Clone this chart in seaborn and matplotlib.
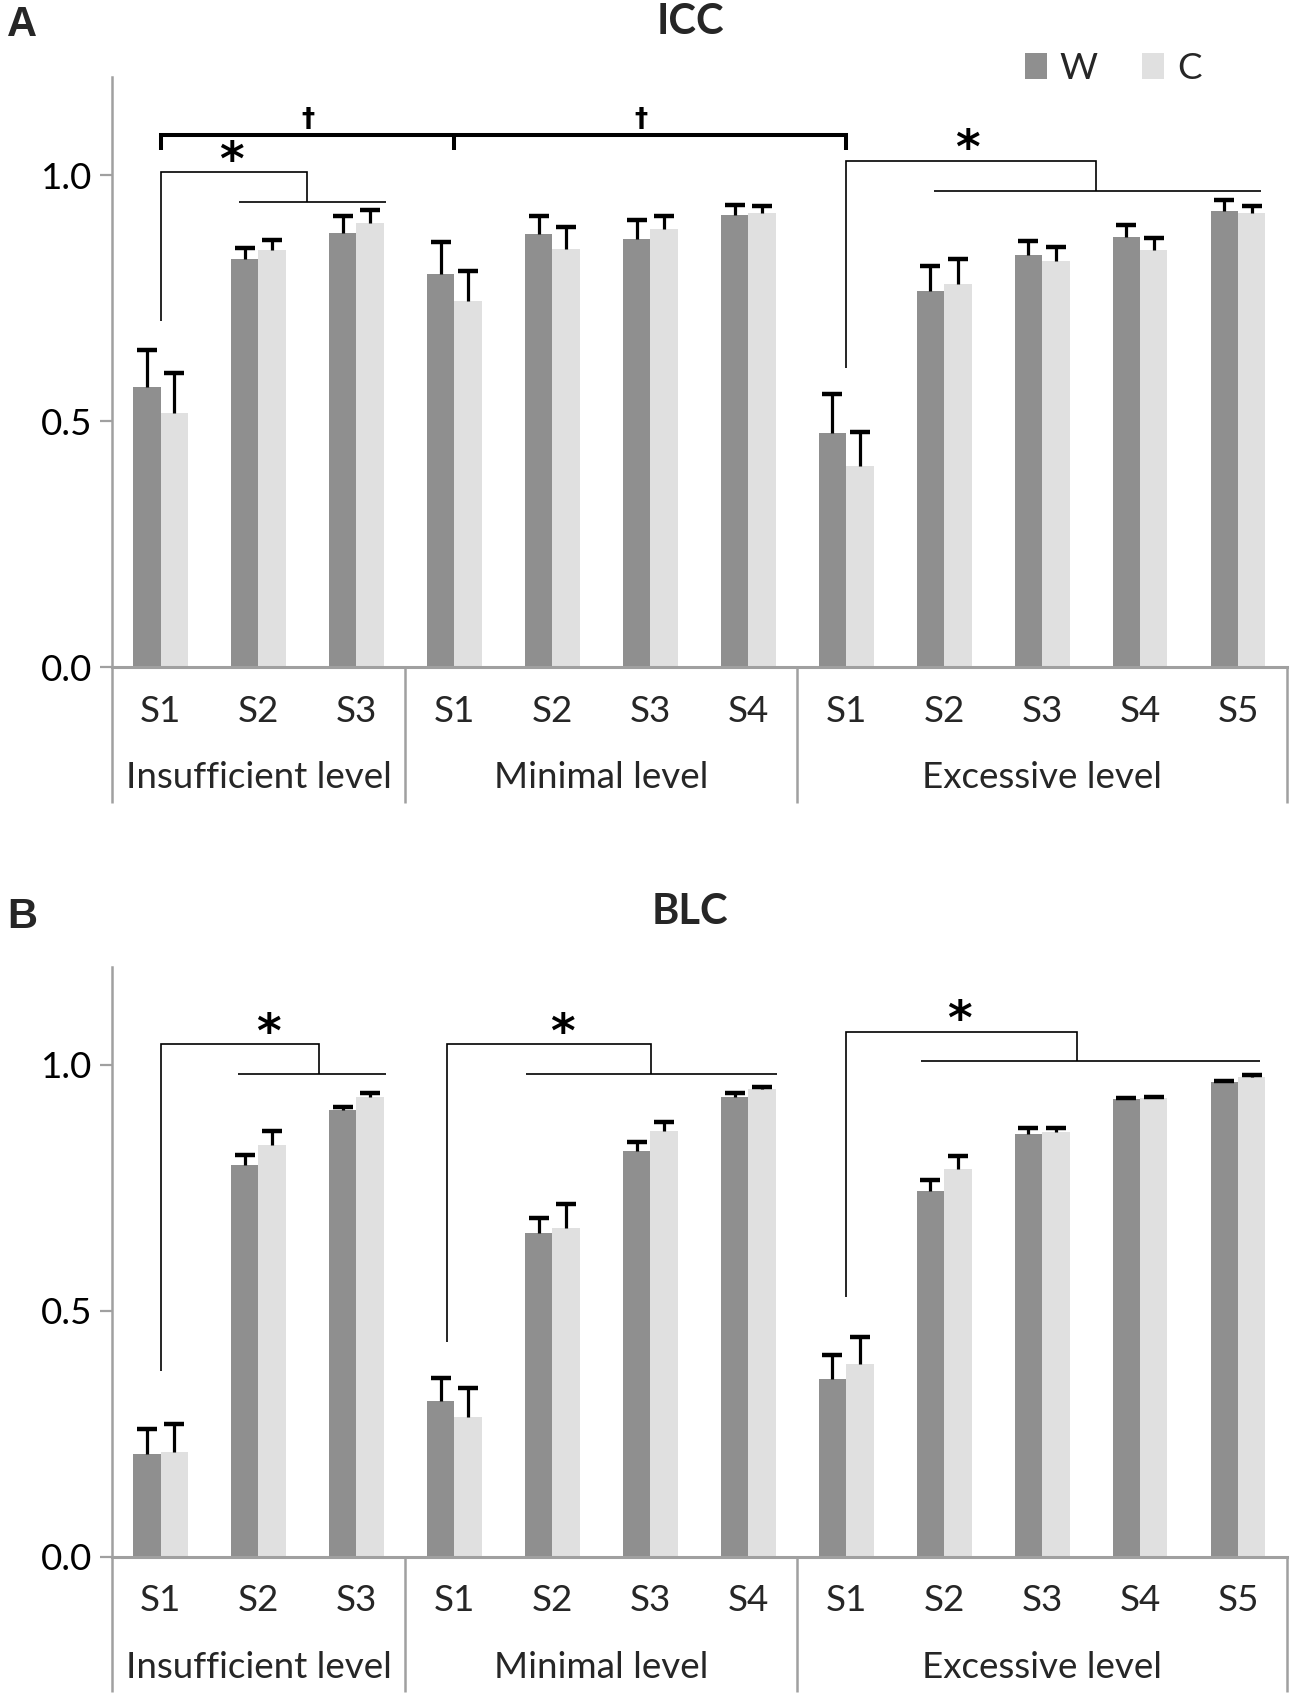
import numpy as np
import pandas as pd
import matplotlib
matplotlib.use("Agg")
import matplotlib.pyplot as plt
import seaborn as sns
from matplotlib.transforms import blended_transform_factory

# ---------------- data ----------------
groups = ["Insufficient level", "Minimal level", "Excessive level"]
group_stages = [["S1", "S2", "S3"],
                ["S1", "S2", "S3", "S4"],
                ["S1", "S2", "S3", "S4", "S5"]]
series = ["W", "C"]

icc_w = [0.570, 0.829, 0.883, 0.800, 0.881, 0.871, 0.919, 0.477, 0.764, 0.837, 0.875, 0.928]
icc_w_err = [0.074, 0.023, 0.035, 0.064, 0.036, 0.038, 0.021, 0.079, 0.052, 0.029, 0.023, 0.021]
icc_c = [0.517, 0.849, 0.902, 0.744, 0.851, 0.890, 0.923, 0.409, 0.778, 0.825, 0.849, 0.924]
icc_c_err = [0.081, 0.019, 0.027, 0.061, 0.043, 0.028, 0.015, 0.070, 0.051, 0.029, 0.024, 0.013]

blc_w = [0.209, 0.796, 0.908, 0.316, 0.659, 0.825, 0.935, 0.361, 0.744, 0.859, 0.930, 0.966]
blc_w_err = [0.050, 0.020, 0.007, 0.047, 0.030, 0.018, 0.007, 0.049, 0.023, 0.012, 0.003, 0.002]
blc_c = [0.212, 0.837, 0.935, 0.285, 0.669, 0.865, 0.951, 0.391, 0.788, 0.863, 0.932, 0.976]
blc_c_err = [0.058, 0.028, 0.007, 0.059, 0.048, 0.018, 0.004, 0.056, 0.027, 0.008, 0.003, 0.003]

y_ticks = [0.0, 0.5, 1.0]
y_tick_labels = ["0.0", "0.5", "1.0"]

# significance annotations: (upper bracket path, lower line, star position)
icc_star_brackets = [
    ([(0, 0.703), (0, 1.006), (1.5, 1.006), (1.5, 0.946)], [(0.8, 0.946), (2.3, 0.946)], (0.72, 1.006)),
    ([(7, 0.608), (7, 1.030), (9.55, 1.030), (9.55, 0.969)], [(7.9, 0.969), (11.23, 0.969)], (8.24, 1.030)),
]
icc_dagger_path = [(0, 1.052), (0, 1.081), (7, 1.081), (7, 1.052)]
icc_dagger_mid = [(3, 1.081), (3, 1.052)]
icc_daggers = [(1.5, 1.081), (4.9, 1.081)]

blc_star_brackets = [
    ([(0, 0.378), (0, 1.042), (1.62, 1.042), (1.62, 0.982)], [(0.79, 0.982), (2.3, 0.982)], (1.10, 1.042)),
    ([(2.92, 0.437), (2.92, 1.042), (5.01, 1.042), (5.01, 0.982)], [(3.73, 0.982), (6.29, 0.982)], (4.10, 1.042)),
    ([(7, 0.528), (7, 1.068), (9.36, 1.068), (9.36, 1.009)], [(7.76, 1.009), (11.22, 1.009)], (8.16, 1.068)),
]

# ---------------- style ----------------
sns.set_theme(style="white")
plt.rcParams["font.family"] = ["Lato", "DejaVu Sans"]

W_COLOR = "#8f8f8f"
C_COLOR = "#e0e0e0"
AXIS_GRAY = "#a0a0a0"
LABEL_FS = 26.5
BAR_WIDTH = 0.56

fig = plt.figure(figsize=(13, 16.97), dpi=100)
axA = fig.add_axes([0.0858, 0.6068, 0.9042, 0.3479])
axB = fig.add_axes([0.0858, 0.0827, 0.9042, 0.3477])

stages_flat = [s for st in group_stages for s in st]
keys = [f"{g}|{s}" for g, st in zip(groups, group_stages) for s in st]


def draw_panel(ax, w, w_err, c, c_err, legend):
    n = len(keys)
    df = pd.DataFrame({
        "cat": keys * 2,
        "series": ["W"] * n + ["C"] * n,
        "value": list(w) + list(c),
    })
    sns.barplot(data=df, x="cat", y="value", hue="series", order=keys,
                hue_order=series, palette={"W": W_COLOR, "C": C_COLOR},
                width=BAR_WIDTH, saturation=1, errorbar=None, ax=ax,
                legend=legend, linewidth=0)
    idx = np.arange(n)
    off = BAR_WIDTH / 4
    for xs, vals, errs in ((idx - off, w, w_err), (idx + off, c, c_err)):
        vals = np.asarray(vals)
        errs = np.asarray(errs)
        ax.vlines(xs, vals, vals + errs, color="black", lw=2.3, zorder=3)
        ax.plot(xs, vals + errs, ls="none", marker="_", ms=14.5, mew=3.2,
                color="black", zorder=3)

    ax.set_xlim(-0.5, n - 0.5)
    ax.set_ylim(0, 1.2)
    ax.set_xlabel("")
    ax.set_ylabel("")
    ax.set_xticks([])
    ax.set_yticks(y_ticks, labels=y_tick_labels)
    ax.tick_params(axis="y", length=8.6, width=1.6, color=AXIS_GRAY, pad=5.5,
                   labelsize=LABEL_FS, labelcolor="black", left=True)
    for s in ("top", "right"):
        ax.spines[s].set_visible(False)
    ax.spines["left"].set_color(AXIS_GRAY)
    ax.spines["left"].set_linewidth(1.8)
    ax.spines["bottom"].set_color(AXIS_GRAY)
    ax.spines["bottom"].set_linewidth(2.2)

    trans = blended_transform_factory(ax.transData, ax.transAxes)
    box_bottom = -0.230
    # multi-level category axis separators
    bounds = [-0.5]
    pos = -0.5
    for st in group_stages:
        pos += len(st)
        bounds.append(pos)
    for b in bounds:
        ax.plot([b, b], [0, box_bottom], transform=trans, color=AXIS_GRAY,
                lw=1.8, clip_on=False, solid_capstyle="butt")
    for i, s in enumerate(stages_flat):
        ax.text(i, -0.0922, s, transform=trans, ha="center", va="baseline",
                fontsize=LABEL_FS)
    start = -0.5
    for g, st in zip(groups, group_stages):
        center = start + len(st) / 2
        ax.text(center, -0.205, g, transform=trans, ha="center",
                va="baseline", fontsize=LABEL_FS)
        start += len(st)


def draw_path(ax, pts, lw):
    xs, ys = zip(*pts)
    ax.plot(xs, ys, color="black", lw=lw, clip_on=False,
            solid_capstyle="butt", solid_joinstyle="miter")


def draw_star(ax, x, y):
    ax.annotate("*", (x, y), xytext=(0, -9), textcoords="offset points",
                ha="center", va="bottom", fontsize=34, fontweight="bold",
                family=["DejaVu Sans"], color="black")


draw_panel(axA, icc_w, icc_w_err, icc_c, icc_c_err, legend=True)
draw_panel(axB, blc_w, blc_w_err, blc_c, blc_c_err, legend=False)

# ICC annotations
draw_path(axA, icc_dagger_path, 2.9)
draw_path(axA, icc_dagger_mid, 2.9)
for x, y in icc_daggers:
    axA.annotate("\u2020", (x, y), xytext=(0, 2), textcoords="offset points",
                 ha="center", va="bottom", fontsize=19, fontweight="bold",
                 family=["DejaVu Sans"], color="black")
for upper, lower, star in icc_star_brackets:
    draw_path(axA, upper, 1.2)
    draw_path(axA, lower, 1.2)
    draw_star(axA, *star)

for upper, lower, star in blc_star_brackets:
    draw_path(axB, upper, 1.2)
    draw_path(axB, lower, 1.2)
    draw_star(axB, *star)

# legend
handles, labels = axA.get_legend_handles_labels()
axA.legend(handles, labels, loc="center", bbox_to_anchor=(0.852, 1.015),
           ncol=2, frameon=False, fontsize=LABEL_FS, handlelength=0.6,
           handleheight=0.72, handletextpad=0.35, columnspacing=1.2,
           borderaxespad=0)

# titles and panel letters
fig.text(690 / 1300, 1 - 22 / 1697, "ICC", ha="center", va="center",
         fontsize=30, fontweight="bold")
fig.text(690 / 1300, 1 - 912 / 1697, "BLC", ha="center", va="center",
         fontsize=30, fontweight="bold")
fig.text(22 / 1300, 1 - 25 / 1697, "A", ha="center", va="center",
         fontsize=30, fontweight="bold", family=["Liberation Sans"])
fig.text(22 / 1300, 1 - 917 / 1697, "B", ha="center", va="center",
         fontsize=30, fontweight="bold", family=["Liberation Sans"])

fig.savefig("out.png", dpi=100, facecolor="white")
